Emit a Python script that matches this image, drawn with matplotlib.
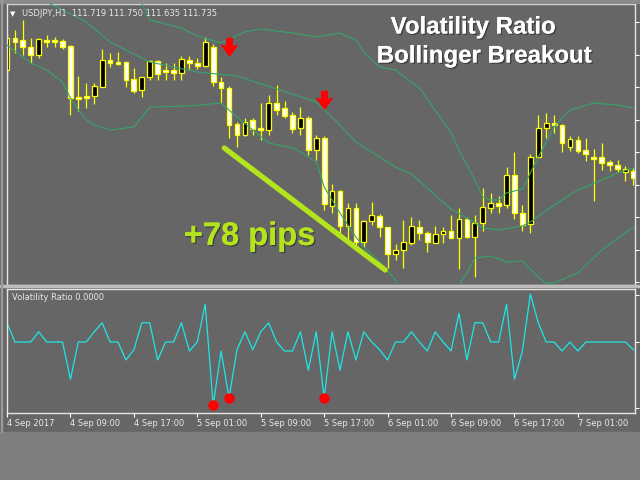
import matplotlib
matplotlib.use("Agg")
import matplotlib.pyplot as plt
import matplotlib.patheffects as pe
from matplotlib.patches import Rectangle
from matplotlib.path import Path

# USDJPY H1 candles, bar 0 = first bar of 4 Sep 2017
opens = [111.85, 112.01, 112.00, 111.965, 111.925, 112.00, 112.00, 111.995, 111.97, 111.715,
         111.72, 111.72, 111.765, 111.90, 111.89, 111.89, 111.805, 111.75, 111.815, 111.895,
         111.85, 111.85, 111.835, 111.90, 111.885, 111.87, 111.965, 111.79, 111.76, 111.58,
         111.525, 111.60, 111.56, 111.55, 111.685, 111.66, 111.625, 111.56, 111.61, 111.45,
         111.51, 111.17, 111.245, 111.07, 111.16, 110.99, 111.095, 111.12, 111.065, 110.93,
         110.95, 110.985, 111.065, 111.035, 110.985, 111.03, 111.045, 111.01, 111.105, 111.015,
         111.085, 111.16, 111.185, 111.175, 111.325, 111.135, 111.08, 111.415, 111.56, 111.585,
         111.575, 111.465, 111.50, 111.45, 111.415, 111.415, 111.39, 111.375, 111.34, 111.345]
highs = [112.035, 112.05, 112.10, 112.01, 112.01, 112.025, 112.015, 112.005, 111.975, 111.82,
         111.785, 111.785, 111.955, 111.935, 111.94, 111.89, 111.86, 111.815, 111.90, 111.90,
         111.885, 111.885, 111.92, 111.92, 111.91, 112.015, 111.98, 111.815, 111.77, 111.59,
         111.61, 111.61, 111.685, 111.725, 111.775, 111.695, 111.64, 111.665, 111.62, 111.525,
         111.52, 111.28, 111.25, 111.185, 111.185, 111.10, 111.19, 111.13, 111.065, 110.98,
         111.10, 111.115, 111.10, 111.045, 111.07, 111.065, 111.125, 111.16, 111.115, 111.125,
         111.26, 111.235, 111.22, 111.365, 111.44, 111.175, 111.43, 111.625, 111.635, 111.625,
         111.58, 111.52, 111.52, 111.51, 111.455, 111.485, 111.40, 111.40, 111.37, 111.36]
lows = [111.81, 111.935, 111.925, 111.885, 111.91, 111.965, 111.965, 111.955, 111.625, 111.645,
        111.66, 111.68, 111.765, 111.865, 111.875, 111.765, 111.735, 111.715, 111.80, 111.80,
        111.80, 111.80, 111.80, 111.855, 111.855, 111.865, 111.77, 111.685, 111.51, 111.465,
        111.52, 111.525, 111.50, 111.525, 111.625, 111.61, 111.535, 111.525, 111.425, 111.40,
        111.15, 111.135, 111.035, 111.00, 110.965, 110.965, 111.075, 111.015, 110.86, 110.90,
        110.86, 110.975, 111.00, 110.94, 110.985, 110.985, 111.01, 110.855, 111.01, 110.815,
        111.045, 111.135, 111.135, 111.16, 111.105, 111.045, 111.035, 111.41, 111.51, 111.535,
        111.44, 111.445, 111.435, 111.395, 111.195, 111.35, 111.345, 111.34, 111.295, 111.275]
closes = [112.01, 111.99, 111.965, 111.925, 112.005, 111.99, 111.99, 111.965, 111.71, 111.705,
          111.71, 111.77, 111.90, 111.885, 111.88, 111.80, 111.745, 111.815, 111.895, 111.83,
          111.84, 111.835, 111.905, 111.885, 111.87, 111.99, 111.79, 111.76, 111.575, 111.525,
          111.59, 111.555, 111.55, 111.685, 111.65, 111.62, 111.555, 111.61, 111.45, 111.51,
          111.18, 111.245, 111.07, 111.16, 110.99, 111.095, 111.125, 111.065, 110.93, 110.95,
          110.99, 111.07, 111.035, 110.99, 111.03, 111.045, 111.01, 111.105, 111.015, 111.085,
          111.165, 111.185, 111.17, 111.325, 111.135, 111.075, 111.415, 111.56, 111.585, 111.575,
          111.485, 111.505, 111.445, 111.43, 111.405, 111.385, 111.375, 111.355, 111.355, 111.31]

# bollinger bands, read at a few bars
upper_idx = [0, 6, 12, 17, 18, 22, 24, 27, 30, 32, 36, 39, 42, 44, 45, 47, 49, 52, 54, 56,
             57, 58, 59, 60, 61, 62, 63, 65, 67, 69, 71, 74, 77, 79]
upper = [112.55, 112.40, 112.275, 112.185, 112.10, 112.06, 112.02, 111.985, 112.04, 112.055,
         112.035, 112.015, 112.035, 112.00, 111.94, 111.865, 111.85, 111.76, 111.65, 111.535,
         111.45, 111.375, 111.30, 111.215, 111.20, 111.20, 111.235, 111.255, 111.415, 111.565,
         111.65, 111.685, 111.675, 111.66]
middle_idx = [0, 6, 10, 13, 18, 24, 29, 34, 39, 42, 44, 46, 49, 51, 54, 56, 58, 60, 62, 65,
              66, 69, 72, 75, 77, 79]
middle = [112.275, 112.17, 112.09, 111.99, 111.89, 111.84, 111.82, 111.755, 111.69, 111.575,
          111.49, 111.44, 111.365, 111.33, 111.225, 111.155, 111.11, 111.06, 111.05, 111.07,
          111.09, 111.175, 111.25, 111.30, 111.335, 111.36]
lower_idx = [0, 3, 5, 7, 8, 9, 10, 11, 13, 16, 18, 23, 27, 29, 31, 33, 36, 37, 39, 40,
             42, 44, 45, 47, 49, 50, 53, 56, 57, 58, 59, 61, 63, 65, 67, 68, 69, 72, 75, 79]
lower = [111.975, 111.885, 111.85, 111.79, 111.71, 111.65, 111.60, 111.575, 111.55, 111.565,
         111.665, 111.67, 111.685, 111.615, 111.55, 111.485, 111.46, 111.44, 111.39, 111.265,
         111.135, 111.015, 110.965, 110.89, 110.80, 110.725, 110.70, 110.735, 110.775, 110.835,
         110.91, 110.92, 110.89, 110.895, 110.815, 110.785, 110.785, 110.835, 110.95, 111.065]

# sell arrows on the price chart
arrow_bars = [28, 40]
arrow_prices = [111.965, 111.70]

# the "+78 pips" move
move_bars = [27.4, 47.7]
move_prices = [111.46, 110.85]

# volatility ratio sub window
vol_ratio = [1.32, 1.00, 1.00, 1.00, 1.17, 1.00, 1.00, 1.00, 0.38, 1.00,
             1.00, 1.17, 1.32, 1.00, 1.00, 0.70, 0.87, 1.32, 1.32, 0.70,
             1.00, 1.00, 1.32, 0.85, 1.00, 1.63, -0.05, 0.85, 0.07, 0.87,
             1.17, 0.87, 1.17, 1.32, 1.00, 0.85, 0.85, 1.17, 0.53, 1.17,
             0.07, 1.17, 0.53, 1.17, 0.70, 1.17, 1.00, 0.87, 0.70, 1.00,
             1.00, 1.17, 1.00, 0.85, 1.17, 1.00, 0.85, 1.48, 0.70, 1.32,
             1.32, 1.00, 1.00, 1.63, 0.38, 0.85, 1.80, 1.32, 1.00, 1.00,
             0.85, 1.00, 0.85, 1.00, 1.00, 1.00, 1.00, 1.00, 1.00, 0.87]
dot_bars = [26, 28, 40]

time_ticks = [0, 8, 16, 24, 32, 40, 48, 56, 64, 72]
time_labels = ["4 Sep 2017", "4 Sep 09:00", "4 Sep 17:00", "5 Sep 01:00", "5 Sep 09:00",
               "5 Sep 17:00", "6 Sep 01:00", "6 Sep 09:00", "6 Sep 17:00", "7 Sep 01:00"]
price_ticks = [112.09, 111.925, 111.765, 111.60, 111.44, 111.275, 111.115, 110.95, 110.79]
ratio_ticks = [1.78, 1.0, -0.1]

BG = '#666666'
W, H = 640, 480


def px_rect(x0, y0, x1, y1):
    return [x0 / W, 1 - y1 / H, (x1 - x0) / W, (y1 - y0) / H]


fig = plt.figure(figsize=(6.4, 4.8), dpi=100, facecolor=BG)

# window chrome
fig.patches.append(Rectangle((0, 0), 1, 1 - 432 / H, transform=fig.transFigure,
                             color='#7f7f7f', zorder=0))
fig.patches.append(Rectangle((0, 1 - 287 / H), 1, 2.5 / H, transform=fig.transFigure,
                             color='#bdbdbd', zorder=0))
fig.patches.append(Rectangle((0, 1 - 3 / H), 1, 3 / H, transform=fig.transFigure,
                             color='#8a8a8a', zorder=0))
fig.patches.append(Rectangle((0.5 / W, 1 - 432 / H), 1.2 / W, 432 / H,
                             transform=fig.transFigure, color='#9a9a9a', zorder=0))

ax = fig.add_axes(px_rect(7, 4, 635, 285), facecolor=BG)
ax2 = fig.add_axes(px_rect(7, 289, 635, 413), facecolor=BG)

bars = list(range(len(opens)))
fills = ['black' if c > o else 'white' for o, c in zip(opens, closes)]
bottoms = [min(o, c) for o, c in zip(opens, closes)]
heights = [max(abs(c - o), 0.004) for o, c in zip(opens, closes)]

ax.vlines(bars, lows, highs, color='#ffff00', lw=0.9, zorder=2)
ax.bar(bars, heights, bottom=bottoms, width=0.6, color=fills,
       edgecolor='#ffff00', linewidth=0.9, zorder=2.5)

band_col = '#35a46c'
ax.plot(upper_idx, upper, color=band_col, lw=0.8, zorder=3)
ax.plot(middle_idx, middle, color=band_col, lw=0.8, zorder=3)
ax.plot(lower_idx, lower, color=band_col, lw=0.8, zorder=3)

down_arrow = Path([(-0.2, 0.65), (0.2, 0.65), (0.2, 0.05), (0.55, 0.15), (0.0, -0.6),
                   (-0.55, 0.15), (-0.2, 0.05), (-0.2, 0.65)])
ax.plot(arrow_bars, arrow_prices, ls='none', marker=down_arrow, markersize=13,
        color='#ff0000', zorder=4)

ax.plot(move_bars, move_prices, color='#b4e41c', lw=3.8, solid_capstyle='round', zorder=4)

ax.set_xlim(0, 79.2)
ax.set_ylim(110.775, 112.18)
ax.set_xticks([])
ax.set_yticks(price_ticks)
ax.tick_params(axis='y', left=False, right=True, labelleft=False, labelright=False,
               direction='out', length=3, color='white', width=0.8)
for s in ax.spines.values():
    s.set_color('#e6e6e6')
    s.set_linewidth(1)

ax2.plot(bars, vol_ratio, color='#1ee6e6', lw=0.9, zorder=2)
ax2.plot(dot_bars, [vol_ratio[b] for b in dot_bars], ls='none', marker='o',
         markersize=6.5, color='#ff0000', zorder=3)
ax2.set_xlim(0, 79.2)
ax2.set_ylim(-0.183, 1.883)
ax2.set_yticks(ratio_ticks)
ax2.tick_params(axis='y', left=False, right=True, labelleft=False, labelright=False,
                direction='out', length=3, color='white', width=0.8)
ax2.set_xticks(time_ticks)
ax2.set_xticklabels(time_labels, fontsize=6, color='#e8e8e8', ha='left')
ax2.tick_params(axis='x', direction='out', length=3, color='white', width=0.8, pad=1.5)
for s in ax2.spines.values():
    s.set_color('#e6e6e6')
    s.set_linewidth(1)

# texts
fig.text(10 / W, 1 - 16 / H, '\u25bc', fontsize=5, color='white', va='baseline')
fig.text(22 / W, 1 - 16 / H, 'USDJPY,H1  111.719 111.750 111.635 111.735',
         fontsize=6, color='#e8e8e8', va='baseline')
fig.text(12 / W, 1 - 300 / H, 'Volatility Ratio 0.0000', fontsize=6, color='#e8e8e8',
         va='baseline')

shadow = [pe.withSimplePatchShadow(offset=(1, -1), shadow_rgbFace='#303030', alpha=0.7),
          pe.Normal()]
fig.text(473 / W, 1 - 33.5 / H, 'Volatility Ratio', family='Liberation Sans',
         weight='bold', fontsize=17.3, color='white', ha='center', va='baseline',
         path_effects=shadow)
fig.text(484 / W, 1 - 62.5 / H, 'Bollinger Breakout', family='Liberation Sans',
         weight='bold', fontsize=17.3, color='white', ha='center', va='baseline',
         path_effects=shadow)
fig.text(249.5 / W, 1 - 245 / H, '+78 pips', family='Liberation Sans', weight='bold',
         fontsize=23.5, color='#b4e41c', ha='center', va='baseline', path_effects=shadow)

fig.savefig('out.png', dpi=100, facecolor=BG)
